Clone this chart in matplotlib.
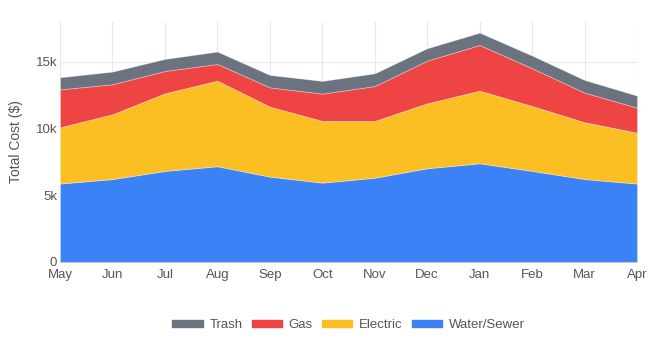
import matplotlib.pyplot as plt
import numpy as np
from matplotlib.patches import Rectangle
from matplotlib.ticker import FuncFormatter

plt.rcParams['font.family'] = ['Liberation Sans', 'DejaVu Sans']

months = ["May", "Jun", "Jul", "Aug", "Sep", "Oct", "Nov", "Dec", "Jan", "Feb", "Mar", "Apr"]
water = [5880, 6220, 6830, 7180, 6400, 5950, 6320, 7030, 7400, 6830, 6220, 5880]
electric = [4220, 4860, 5820, 6420, 5250, 4630, 4260, 4870, 5450, 4870, 4260, 3820]
gas = [2850, 2250, 1680, 1250, 1450, 2050, 2620, 3200, 3430, 2830, 2220, 1880]
trash = [900, 950, 900, 930, 930, 950, 950, 930, 920, 950, 950, 900]

labels = ["Water/Sewer", "Electric", "Gas", "Trash"]
colors = ["#3b82f6", "#fbbf24", "#ef4444", "#6b7280"]

fig = plt.figure(figsize=(6.57, 3.52), dpi=100)
ax = fig.add_axes([60 / 657, 1 - 262 / 352, 577 / 657, 240 / 352])

x = np.arange(len(months))
ax.stackplot(x, water, electric, gas, trash, colors=colors,
             edgecolor=(1, 1, 1, 0.35), linewidth=0.6, zorder=2)

ax.set_xlim(0, len(months) - 1)
ax.set_ylim(0, 18000)
ax.set_xticks(x)
ax.set_xticklabels(months)
ax.set_yticks([0, 5000, 10000, 15000])
ax.yaxis.set_major_formatter(FuncFormatter(lambda v, p: "0" if v == 0 else f"{int(v / 1000)}k"))
ax.tick_params(length=0, labelsize=9.5, colors="#555555")
ax.tick_params(axis="x", pad=5)
ax.tick_params(axis="y", pad=2)
ax.grid(True, color="#e8e8e8", linewidth=0.8, zorder=0)
ax.set_axisbelow(True)
for s in ["top", "right", "left"]:
    ax.spines[s].set_visible(False)
ax.spines["bottom"].set_color("#c8c8c8")
ax.spines["bottom"].set_zorder(3)
ax.set_ylabel("Total Cost ($)", fontsize=10, color="#555555", labelpad=9)

handles = [Rectangle((0, 0), 1, 1, color=c) for c in colors[::-1]]
fig.legend(handles, labels[::-1], loc="center", bbox_to_anchor=(348.5 / 657, 1 - 325 / 352),
           ncol=4, frameon=False, fontsize=9.5, handlelength=2.3, handleheight=0.5,
           handletextpad=0.5, columnspacing=0.7, labelcolor="#555555")

fig.savefig("out.png", dpi=100)
